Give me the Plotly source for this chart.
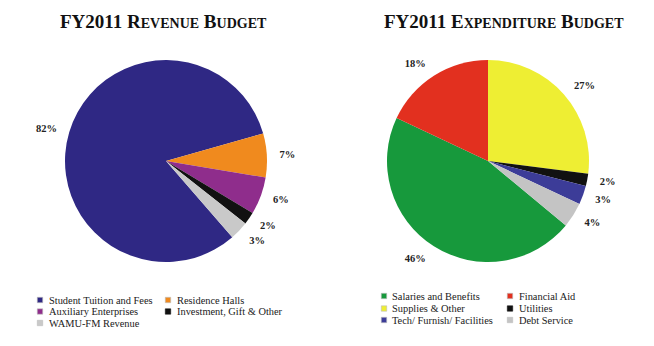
import plotly.graph_objects as go

# ---------------- data ----------------
rev_labels = ["Student Tuition and Fees", "Residence Halls", "Auxiliary Enterprises",
              "Investment, Gift & Other", "WAMU-FM Revenue"]
rev_values = [82, 7, 6, 2, 3]
rev_colors = ["#2f2884", "#f08a1e", "#8f2d8c", "#111111", "#c9c9c9"]

exp_labels = ["Salaries and Benefits", "Financial Aid", "Supplies & Other",
              "Utilities", "Tech/ Furnish/ Facilities", "Debt Service"]
exp_values = [46, 18, 27, 2, 3, 4]
exp_colors = ["#17993c", "#e2301f", "#eeee33", "#111111", "#3c3c98", "#c4c4c4"]

# ---------------- layout constants ----------------
W, H = 654, 346
SERIF = "Liberation Serif"
R = 101          # pie radius (px)
GAP = 10         # extra distance of the percentage labels from the rim (px)

pct_font = dict(family=SERIF, size=10.5, color="#222222", weight="bold")

fig = go.Figure()

pies = [
    (rev_labels, rev_values, rev_colors, 139.0, 166, 161),
    (exp_labels, exp_values, exp_colors, 129.6, 488, 161),
]
for labels, values, colors, rot, cx, cy in pies:
    # coloured pie
    fig.add_trace(go.Pie(
        labels=labels, values=values, sort=False, direction="clockwise",
        rotation=rot, marker=dict(colors=colors, line=dict(width=0)),
        textinfo="none",
        domain=dict(x=[(cx - R) / W, (cx + R) / W],
                    y=[(H - cy - R) / H, (H - cy + R) / H]),
        showlegend=False, hoverinfo="label+percent",
    ))
    # transparent ring carrying the outside percentage labels a bit further out
    r2 = R + GAP
    fig.add_trace(go.Pie(
        labels=labels, values=values, sort=False, direction="clockwise",
        rotation=rot,
        marker=dict(colors=["rgba(0,0,0,0)"] * len(values), line=dict(width=0)),
        textposition="outside", texttemplate="%{value}%",
        textfont=pct_font, outsidetextfont=pct_font,
        domain=dict(x=[(cx - r2) / W, (cx + r2) / W],
                    y=[(H - cy - r2) / H, (H - cy + r2) / H]),
        showlegend=False, hoverinfo="skip",
    ))

annotations = []
shapes = []

def sc(word):
    return f"{word[0]}<span style='font-size:14px'>{word[1:].upper()}</span>"

titles = [
    ("FY2011 " + sc("Revenue") + " " + sc("Budget"), 164),
    ("FY2011 " + sc("Expenditure") + " " + sc("Budget"), 504),
]
for txt, tcx in titles:
    annotations.append(dict(
        text=f"<b>{txt}</b>", x=tcx / W, y=1 - 21 / H, xref="paper", yref="paper",
        xanchor="center", yanchor="middle", showarrow=False,
        font=dict(family=SERIF, size=19, color="#111111"),
    ))

# legends (two-column grids, row-major)
legends = [
    (rev_labels, rev_colors, [40, 168], [46.5, 175], [300, 311.5, 323]),
    (exp_labels, exp_colors, [384, 510], [390, 517], [296, 308.5, 320]),
]
for labels, colors, mx, tx, ry in legends:
    for i, (lab, col) in enumerate(zip(labels, colors)):
        c, r = i % 2, i // 2
        s = 2.7
        shapes.append(dict(
            type="rect", xref="paper", yref="paper",
            x0=(mx[c] - s) / W, x1=(mx[c] + s) / W,
            y0=1 - (ry[r] + s) / H, y1=1 - (ry[r] - s) / H,
            fillcolor=col, line=dict(width=0.6, color="#bbbbbb" if col != "#111111" else col),
        ))
        annotations.append(dict(
            text=lab, x=tx[c] / W, y=1 - ry[r] / H, xref="paper", yref="paper",
            xanchor="left", yanchor="middle", showarrow=False,
            font=dict(family=SERIF, size=10.4, color="#1a1a1a"),
        ))

fig.update_layout(
    width=W, height=H,
    margin=dict(l=0, r=0, t=0, b=0),
    paper_bgcolor="white", plot_bgcolor="white",
    showlegend=False,
    annotations=annotations, shapes=shapes,
)

fig.write_html("out.html")
